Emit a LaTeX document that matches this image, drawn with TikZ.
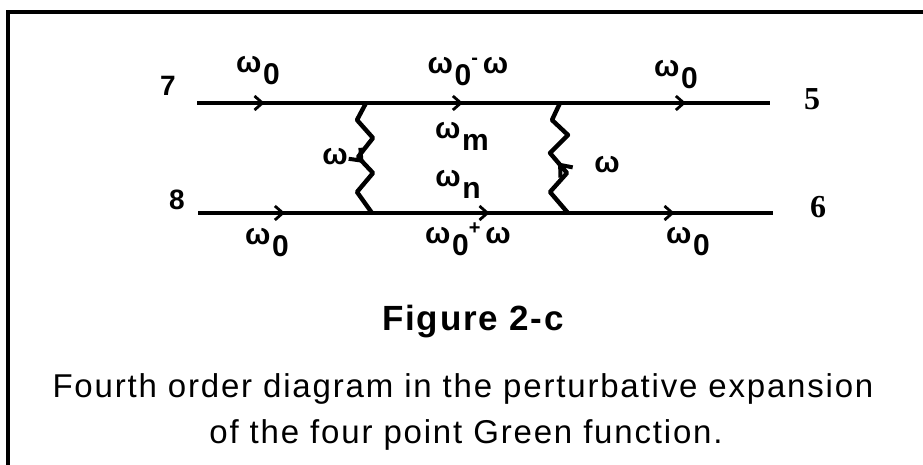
\documentclass[tikz,border=0pt]{standalone}
\usepackage{fontspec}
\setmainfont{Liberation Sans}
\newfontfamily\legserif{Liberation Serif}
\usetikzlibrary{arrows.meta,decorations.markings}
\newcommand{\wsub}[1]{ω\hspace{0.8pt}\raisebox{-0.75ex}{#1}}

\begin{document}
\begin{tikzpicture}[x=0.5pt, y=-0.5pt,
  fermion/.style={line width=2.2pt},
  midarrow/.style={postaction={decorate, decoration={markings,
    mark=at position #1 with {\arrow{Straight Barb[length=4pt,width=7pt,line width=1.4pt]}}}}},
  wavearrow/.style={postaction={decorate, decoration={markings,
    mark=at position #1 with {\arrow{Straight Barb[length=5pt,width=8pt,line width=2pt]}}}}},
  photon/.style={line width=2.2pt, line join=round},
  freq/.style={font=\bfseries\fontsize{15}{15}\selectfont, inner sep=0pt},
  leg/.style={font=\bfseries\fontsize{14}{14}\selectfont, inner sep=0pt},
  legout/.style={font=\legserif\bfseries\fontsize{16}{16}\selectfont, inner sep=0pt},
  caption/.style={font=\fontsize{16.5}{19}\selectfont\addfontfeature{LetterSpace=5.5},
    inner sep=0pt}]
\useasboundingbox (0,0) rectangle (923,465);
% frame, top and left edges
\draw[line width=2pt] (8,465) -- (8,12) -- (923,12);

% end points and vertices
\coordinate (a7) at (197,103);
\coordinate (a5) at (770,103);
\coordinate (a8) at (198,213);
\coordinate (a6) at (773,213);
\coordinate (v1t) at (366,103);
\coordinate (v2t) at (560,103);
\coordinate (v1b) at (372,213);
\coordinate (v2b) at (568,213);

% external legs
\node (n7) [leg] at (168,86) {7};
\node (n8) [leg] at (177,200) {8};
\node (n5) [legout] at (812,99) {5};
\node (n6) [legout] at (818,207) {6};

% fermion lines
\draw[fermion, midarrow=0.4] (a7) -- (v1t);
\draw[fermion, midarrow=0.5] (v1t) -- (v2t);
\draw[fermion, midarrow=0.6] (v2t) -- (a5);
\draw[fermion, midarrow=0.5] (a8) -- (v1b);
\draw[fermion, midarrow=0.6] (v1b) -- (v2b);
\draw[fermion, midarrow=0.52] (v2b) -- (a6);

% exchanged quanta, zigzag with an arrow half way
\draw[photon, wavearrow=0.54] (v1t) -- ++(-9,17) -- ++(16,18) -- ++(-15,19)
  -- ++(15,16) -- ++(-16,19) -- (v1b);
\draw[photon, wavearrow=0.46] (v2b) -- ++(-18,-21) -- ++(17,-19) -- ++(-17,-20)
  -- ++(18,-18) -- ++(-16,-15) -- (v2t);

% frequency labels
\node (w7) [freq] at (258,71) {\wsub{0}};
\node (wtop) [freq] at (468,72) {\wsub{0}\raisebox{0.6ex}{\fontsize{10}{10}\selectfont -}\,ω};
\node (w5) [freq] at (676,75) {\wsub{0}};
\node (wm) [freq] at (462,136) {\wsub{m}};
\node (wn) [freq] at (458,184) {\wsub{n}};
\node (wl) [freq] at (335,157) {ω};
\node (wr) [freq] at (607,165) {ω};
\node (w8) [freq] at (267,243) {\wsub{0}};
\node (wbot) [freq] at (468,239) {\wsub{0}\raisebox{0.6ex}{\fontsize{10}{10}\selectfont +}\,ω};
\node (w6) [freq] at (688,242) {\wsub{0}};

% caption
\node (fig) [caption, font=\bfseries\fontsize{17.5}{18}\selectfont\addfontfeature{LetterSpace=5}]
  at (473,322) {Figure 2-c};
\node (cap1) [caption] at (463,389) {Fourth order diagram in the perturbative expansion};
\node (cap2) [caption] at (466,435) {of the four point Green function.};
\end{tikzpicture}
\end{document}
